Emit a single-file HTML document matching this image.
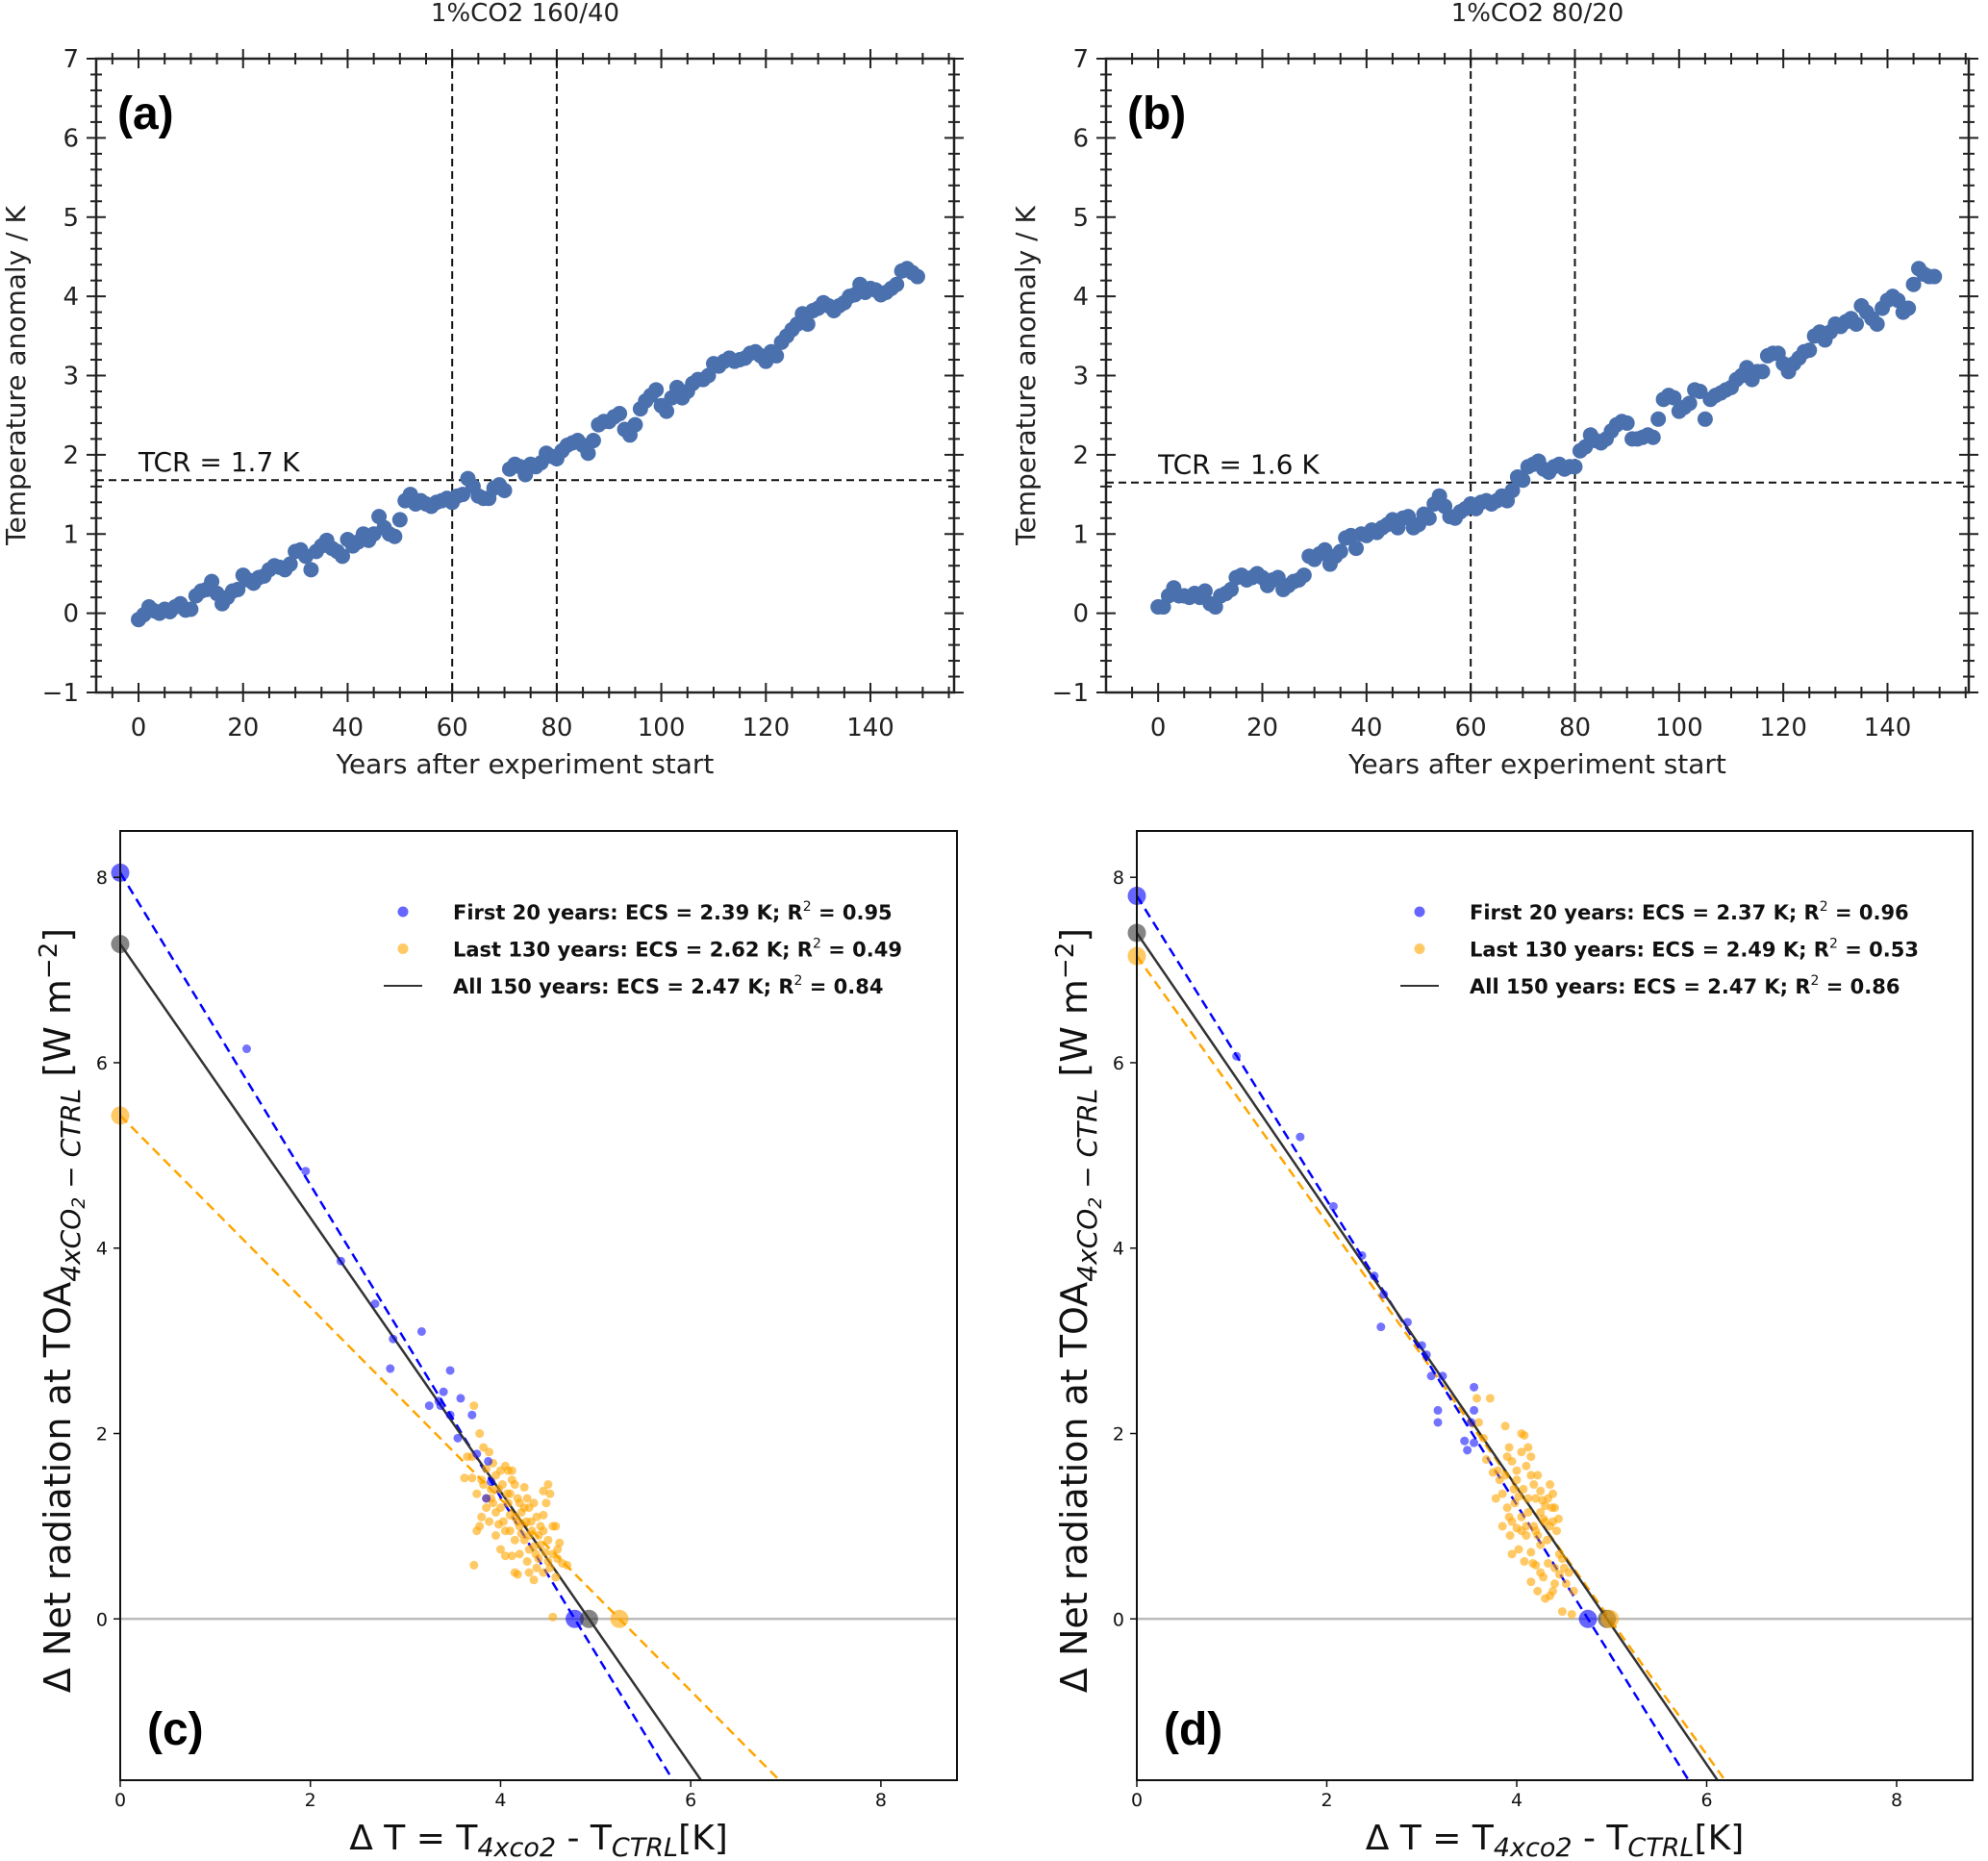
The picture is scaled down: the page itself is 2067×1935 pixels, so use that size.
<!DOCTYPE html>
<html><head><meta charset="utf-8"><style>
html,body{margin:0;padding:0;background:#fff;overflow:hidden}
svg{display:block;font-family:"DejaVu Sans","Liberation Sans",sans-serif}
</style></head><body>
<svg id="fig" width="2067" height="1935" viewBox="0 0 2067 1935" xmlns="http://www.w3.org/2000/svg"></svg>
<script>
const years = Array.from({length:150},(_,i)=>i);
const tempA = [-0.08,-0.02,0.08,0.03,0.0,0.05,0.02,0.08,0.12,0.04,
0.05,0.22,0.28,0.3,0.4,0.25,0.12,0.2,0.28,0.3,
0.48,0.42,0.38,0.45,0.47,0.55,0.6,0.58,0.55,0.62,
0.78,0.8,0.72,0.55,0.78,0.85,0.92,0.82,0.78,0.72,
0.93,0.85,0.9,1.0,0.92,1.0,1.22,1.08,1.0,0.97,
1.18,1.42,1.5,1.38,1.42,1.38,1.35,1.4,1.42,1.45,
1.4,1.48,1.5,1.7,1.6,1.48,1.45,1.45,1.58,1.62,
1.55,1.82,1.88,1.85,1.75,1.88,1.85,1.9,2.02,1.98,
1.95,2.05,2.12,2.15,2.18,2.12,2.02,2.18,2.38,2.42,
2.42,2.48,2.52,2.32,2.25,2.38,2.58,2.68,2.75,2.82,
2.62,2.55,2.72,2.85,2.72,2.8,2.9,2.95,2.95,3.0,
3.15,3.12,3.18,3.22,3.18,3.2,3.22,3.28,3.3,3.25,
3.18,3.3,3.25,3.42,3.5,3.58,3.65,3.78,3.65,3.82,
3.85,3.92,3.88,3.82,3.88,3.92,4.0,4.02,4.15,4.05,
4.1,4.08,4.02,4.05,4.1,4.15,4.32,4.35,4.3,4.25];
const tempB = [0.08,0.08,0.22,0.32,0.22,0.22,0.2,0.25,0.2,0.28,
0.12,0.08,0.22,0.25,0.3,0.45,0.48,0.42,0.45,0.5,
0.45,0.35,0.42,0.45,0.3,0.35,0.4,0.42,0.48,0.72,
0.68,0.75,0.8,0.62,0.72,0.78,0.95,0.98,0.82,1.0,
0.98,1.05,1.02,1.08,1.12,1.18,1.08,1.2,1.22,1.08,
1.12,1.25,1.2,1.38,1.48,1.35,1.22,1.2,1.28,1.32,
1.38,1.32,1.4,1.42,1.38,1.42,1.48,1.42,1.55,1.72,
1.68,1.85,1.88,1.92,1.82,1.78,1.85,1.88,1.82,1.85,
1.85,2.05,2.1,2.25,2.18,2.15,2.2,2.3,2.38,2.42,
2.4,2.2,2.2,2.22,2.25,2.22,2.45,2.7,2.75,2.72,
2.55,2.6,2.65,2.82,2.8,2.45,2.7,2.75,2.78,2.82,
2.85,2.95,3.0,3.1,2.95,3.05,3.05,3.25,3.28,3.28,
3.15,3.05,3.15,3.22,3.3,3.32,3.5,3.55,3.45,3.55,
3.65,3.62,3.68,3.72,3.65,3.88,3.8,3.72,3.65,3.85,
3.95,4.0,3.95,3.8,3.85,4.15,4.35,4.28,4.25,4.25];
const tcrA = 1.68, tcrB = 1.65;
const xTicksTop = [0,20,40,60,80,100,120,140];
const yTicksTop = [-1,0,1,2,3,4,5,6,7];

const blueC_x = [1.33,1.95,2.32,2.68,2.87,2.84,3.17,3.25,3.37,3.4,3.47,3.47,3.55,3.58,3.7,3.75,3.85,3.87,3.9,3.35];
const blueC_y = [6.15,4.83,3.86,3.4,3.02,2.7,3.1,2.3,2.3,2.45,2.68,2.2,1.95,2.38,2.2,1.78,1.3,1.7,1.48,2.35];
const orangeC_x = [3.72,3.78,3.82,3.7,3.65,3.62,3.7,3.75,3.8,3.85,3.88,3.92,3.95,3.9,3.85,3.8,3.78,3.75,3.72,3.88,3.92,3.98,4.02,4.05,4.08,4.1,4.12,4.15,4.0,4.03,3.95,4.0,4.05,4.1,4.15,4.18,4.2,4.22,4.25,4.28,4.3,4.32,4.25,4.2,4.15,4.18,4.12,4.28,4.3,4.35,4.38,4.35,4.4,4.42,4.45,4.48,4.45,4.52,4.5,4.55,4.58,4.5,4.47,4.55,4.6,4.62,4.52,4.58,4.65,4.7,4.55,4.08,4.1,3.98,4.05,4.22,4.27,4.33,4.38,4.42,4.4,4.35,4.25,4.15,3.9,3.82,4.0,4.12,4.18,4.3,4.45,4.5,3.85,3.95,4.07,4.2,4.37,4.6,4.45,4.3];
const orangeC_y = [2.3,2.0,1.85,1.75,1.75,1.52,1.52,1.35,1.5,1.62,1.8,1.68,1.55,1.4,1.2,1.1,1.0,0.95,0.58,1.05,1.25,1.4,1.45,1.65,1.6,1.35,1.6,1.45,1.2,1.05,0.9,0.75,0.68,0.95,1.1,1.3,1.0,1.15,1.42,1.3,1.2,1.05,0.85,0.7,0.5,0.48,0.68,0.62,0.5,0.42,0.55,0.78,0.9,1.0,1.12,1.25,1.38,1.35,1.45,1.0,1.0,0.85,0.72,0.7,0.65,0.82,0.55,0.45,0.6,0.58,0.02,1.25,1.12,1.02,0.95,0.92,1.05,0.95,1.1,0.8,0.65,1.25,1.2,0.85,1.3,1.45,1.6,1.5,1.05,0.9,0.95,0.62,1.3,1.15,1.35,1.25,0.7,0.75,0.5,0.75];
const blueD_x = [1.05,1.72,2.07,2.37,2.5,2.57,2.85,3.05,3.1,3.22,3.17,3.17,3.45,3.48,3.52,3.55,3.55,3.55,2.6,3.0];
const blueD_y = [6.07,5.2,4.45,3.92,3.7,3.15,3.2,2.85,2.62,2.62,2.25,2.12,1.92,1.82,2.12,2.5,2.25,1.9,3.5,2.95];
const orangeD_x = [3.58,3.72,3.6,3.65,3.68,3.75,3.78,3.82,3.88,3.9,3.92,3.88,3.95,4.0,4.05,4.08,4.12,4.1,4.15,4.18,4.2,4.22,4.25,4.3,4.28,4.35,4.38,4.4,4.38,4.42,4.45,4.48,4.5,4.45,4.4,4.38,4.35,4.3,4.28,4.25,4.2,4.15,4.1,4.05,4.0,3.95,3.92,3.9,3.98,4.02,4.07,4.12,4.18,4.22,4.25,4.32,4.35,4.02,3.95,4.08,4.15,4.22,4.48,4.58,4.55,4.52,3.85,3.8,4.0,4.12,4.3,4.25,4.33,4.4,4.17,3.97,4.05,4.27,4.37,4.1,3.93,4.2,4.44,4.6,4.05,3.85,4.15,4.33];
const orangeD_y = [2.38,2.38,2.12,1.95,1.72,1.58,1.3,1.5,1.55,1.75,1.85,2.08,1.7,1.6,2.0,1.98,1.85,1.65,1.75,1.45,1.3,1.55,1.38,1.22,1.08,1.45,1.35,1.2,1.05,0.95,0.7,0.65,0.55,0.48,0.38,0.3,0.25,0.22,0.45,0.5,0.58,0.72,0.9,0.95,0.98,1.05,1.1,1.2,1.25,1.32,1.4,1.15,1.0,0.9,0.8,0.85,1.0,0.75,0.7,0.62,0.4,0.3,0.08,0.05,0.5,0.38,1.0,1.6,1.5,1.3,1.05,1.15,0.6,0.55,0.6,1.4,1.1,1.28,1.2,1.0,0.9,0.95,1.08,0.3,1.8,1.35,1.55,1.3];
// fit lines: [y-intercept, x-intercept]
const fitC_blue = [8.05,4.78], fitC_black = [7.28,4.93], fitC_orange = [5.43,5.25];
const fitD_blue = [7.8,4.75], fitD_black = [7.4,4.95], fitD_orange = [7.15,4.98];
const xTicksBot = [0,2,4,6,8];
const yTicksBot = [0,2,4,6,8];

const NS='http://www.w3.org/2000/svg';
const svg=document.getElementById('fig');
function el(tag,attrs,parent,text){const e=document.createElementNS(NS,tag);for(const k in attrs)e.setAttribute(k,attrs[k]);if(text!==undefined)e.textContent=text;(parent||svg).appendChild(e);return e;}

function topPanel(L,R,T,B,xmin,xmax,data,tcr,label,title,tcrText,nm){
  const g=el('g',{});
  
  
  const ymin=-1,ymax=7;
  const sx=v=>L+(v-xmin)/(xmax-xmin)*(R-L);
  const sy=v=>B-(v-ymin)/(ymax-ymin)*(B-T);
  for(let v=-5;v<=155;v+=5){if(v<xmin||v>xmax)continue;const x=sx(v);const maj=v%20===0&&v>=0;const len=maj?10:6;
    el('line',{x1:x,x2:x,y1:B-len,y2:B+len,stroke:'#222','stroke-width':2},g);
    el('line',{x1:x,x2:x,y1:T-len,y2:T+len,stroke:'#222','stroke-width':2},g);}
  for(let v=-1;v<=7.001;v+=0.2){const y=sy(v);const maj=Math.abs(v-Math.round(v))<1e-6;const len=maj?10:6;
    el('line',{x1:L-len,x2:L+len,y1:y,y2:y,stroke:'#222','stroke-width':2},g);
    el('line',{x1:R-len,x2:R+len,y1:y,y2:y,stroke:'#222','stroke-width':2},g);}
  xTicksTop.forEach(v=>{const t=el('text',{x:sx(v),y:B+45,'text-anchor':'middle','font-size':26,fill:'#222'},g,String(v));
    });
  yTicksTop.forEach(v=>{const t=el('text',{x:L-18,y:sy(v)+9,'text-anchor':'end','font-size':26,fill:'#222'},g,v<0?'\u2212'+Math.abs(v):String(v));
    });
  el('rect',{x:L,y:T,width:R-L,height:B-T,fill:'none',stroke:'#222','stroke-width':2.5},g);
  [60,80].forEach(v=>{const l=el('line',{x1:sx(v),x2:sx(v),y1:T,y2:B,stroke:'#111','stroke-width':2,'stroke-dasharray':'8,5'},g);
    });
  const h=el('line',{x1:L,x2:R,y1:sy(tcr),y2:sy(tcr),stroke:'#111','stroke-width':2,'stroke-dasharray':'8,5'},g);
  
  const tt=el('text',{x:sx(0),y:sy(tcr)-9,'font-size':28,fill:'#111'},g,tcrText);
  
  data.forEach((v,i)=>{const c=el('circle',{cx:sx(years[i]),cy:sy(v),r:8,fill:'#4a70ae'},g);
    });
  const pl=el('text',{x:L+22,y:T+73,'font-size':48,'font-weight':'bold','font-family':'Liberation Sans, sans-serif',fill:'#000'},g,label);
  
  const ti=el('text',{x:(L+R)/2,y:22,'text-anchor':'middle','font-size':26,fill:'#222'},g,title);
  
  const xl=el('text',{x:(L+R)/2,y:B+84,'text-anchor':'middle','font-size':28,fill:'#222'},g,'Years after experiment start');
  
  const yl=el('text',{x:0,y:0,'text-anchor':'middle','font-size':28,fill:'#222',transform:`translate(${L-74},${(T+B)/2}) rotate(-90)`},g,'Temperature anomaly / K');
  
}

function botPanel(L,R,T,B,bx,by,ox,oy,fb,fk,fo,label,leg,nm){
  const g=el('g',{});
  
  
  const xmin=0,xmax=8.8,ymin=-1.74,ymax=8.5;
  const sx=v=>L+(v-xmin)/(xmax-xmin)*(R-L);
  const sy=v=>B-(v-ymin)/(ymax-ymin)*(B-T);
  const cp='clip'+nm;
  const d=el('defs',{},g);const c=el('clipPath',{id:cp},d);el('rect',{x:L,y:T,width:R-L,height:B-T},c);
  const inner=el('g',{'clip-path':`url(#${cp})`},g);
  const z=el('line',{x1:L,x2:R,y1:sy(0),y2:sy(0),stroke:'#bbb','stroke-width':2.5},inner);
  
  function fit(f,col,dash,name){const slope=-f[0]/f[1];const x2=xmax;
    const l=el('line',{x1:sx(0),y1:sy(f[0]),x2:sx(x2),y2:sy(f[0]+slope*x2),stroke:col,'stroke-width':2.5},inner);
    if(dash)l.setAttribute('stroke-dasharray','10,6');
    }
  fit(fo,'#ffa500',true,'fit-line-last-130');
  fit(fb,'#0000ff',true,'fit-line-first-20');
  fit(fk,'#333',false,'fit-line-all-150');
  ox.forEach((v,i)=>{const p=el('circle',{cx:sx(v),cy:sy(oy[i]),r:4.5,fill:'#ffa500','fill-opacity':0.6},inner);
    });
  bx.forEach((v,i)=>{const p=el('circle',{cx:sx(v),cy:sy(by[i]),r:4.5,fill:'#0000ff','fill-opacity':0.55},inner);
    });
  [[fb,'#0000ff'],[fk,'#333'],[fo,'#ffa500']].forEach(([f,col])=>{
    const a=el('circle',{cx:sx(0),cy:sy(f[0]),r:9.5,fill:col,'fill-opacity':0.6},g);
    
    const b=el('circle',{cx:sx(f[1]),cy:sy(0),r:9.5,fill:col,'fill-opacity':0.6},g);
    });
  el('rect',{x:L,y:T,width:R-L,height:B-T,fill:'none',stroke:'#111','stroke-width':2},g);
  xTicksBot.forEach(v=>{el('line',{x1:sx(v),x2:sx(v),y1:B,y2:B+7,stroke:'#111','stroke-width':1.5},g);
    const t=el('text',{x:sx(v),y:B+27,'text-anchor':'middle','font-size':19,fill:'#111'},g,String(v));
    });
  yTicksBot.forEach(v=>{el('line',{x1:L-7,x2:L,y1:sy(v),y2:sy(v),stroke:'#111','stroke-width':1.5},g);
    const t=el('text',{x:L-13,y:sy(v)+7,'text-anchor':'end','font-size':19,fill:'#111'},g,String(v));
    });
  const lx=L+294, ly=T+84;
  const lg=el('g',{},g);
  const rows=[['#0000ff','dot'],['#ffa500','dot'],['#333','line']];
  rows.forEach((r,i)=>{const y=ly+i*38.5;
    if(r[1]==='dot')el('circle',{cx:lx,cy:y,r:5.5,fill:r[0],'fill-opacity':0.6},lg);
    else el('line',{x1:lx-20,x2:lx+20,y1:y,y2:y,stroke:r[0],'stroke-width':2},lg);
    const t=el('text',{x:lx+52,y:y+8,'font-size':21,'font-weight':'bold',fill:'#111'},lg);
    
    el('tspan',{},t,leg[i][0]+'; R');el('tspan',{'font-size':14,dy:-9,'font-weight':'normal'},t,'2');el('tspan',{dy:9},t,' = '+leg[i][1]);});
  const pl=el('text',{x:L+28,y:B-37,'font-size':48,'font-weight':'bold','font-family':'Liberation Sans, sans-serif',fill:'#000'},g,label);
  
  const xl=el('text',{x:(L+R)/2,y:B+72,'text-anchor':'middle','font-size':36,fill:'#111'},g);
  
  el('tspan',{},xl,'\u0394 T = T');el('tspan',{'font-size':27,'font-style':'italic',dy:7},xl,'4xco2');el('tspan',{dy:-7},xl,' - T');el('tspan',{'font-size':27,'font-style':'italic',dy:7},xl,'CTRL');el('tspan',{dy:-7},xl,'[K]');
  const yl=el('text',{x:0,y:0,'text-anchor':'middle','font-size':38,fill:'#111',transform:`translate(${L-52},${(T+B)/2+5}) rotate(-90)`},g);
  
  el('tspan',{},yl,'\u0394 Net radiation at TOA');el('tspan',{'font-size':28,'font-style':'italic',dy:10},yl,'4xCO');el('tspan',{'font-size':19,'font-style':'italic',dy:5},yl,'2');el('tspan',{'font-size':28,'font-style':'italic',dy:-5},yl,' \u2212 CTRL');el('tspan',{dy:-10},yl,' [W m');el('tspan',{'font-size':26,dy:-14},yl,'\u22122');el('tspan',{dy:14},yl,']');
}

topPanel(100,992,61,720,-8.1,156.0,tempA,tcrA,'(a)','1%CO2 160/40','TCR = 1.7 K','panel-a');
topPanel(1150,2047,61,720,-10,155.6,tempB,tcrB,'(b)','1%CO2 80/20','TCR = 1.6 K','panel-b');
botPanel(125,995,864,1851,blueC_x,blueC_y,orangeC_x,orangeC_y,fitC_blue,fitC_black,fitC_orange,'(c)',
 [['First 20 years: ECS = 2.39 K','0.95'],['Last 130 years: ECS = 2.62 K','0.49'],['All 150 years: ECS = 2.47 K','0.84']],'panel-c');
botPanel(1182,2051,864,1851,blueD_x,blueD_y,orangeD_x,orangeD_y,fitD_blue,fitD_black,fitD_orange,'(d)',
 [['First 20 years: ECS = 2.37 K','0.96'],['Last 130 years: ECS = 2.49 K','0.53'],['All 150 years: ECS = 2.47 K','0.86']],'panel-d');
</script>
</body></html>
